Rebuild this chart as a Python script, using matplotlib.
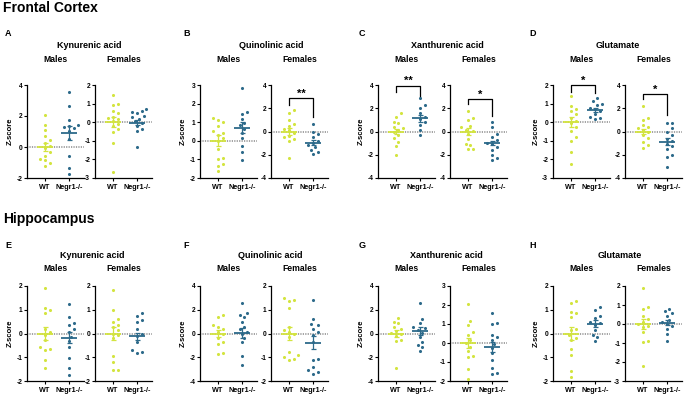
import numpy as np
import matplotlib
matplotlib.use("Agg")
import matplotlib.pyplot as plt

plt.rcParams["font.family"] = ["Liberation Sans", "DejaVu Sans"]
plt.rcParams["font.weight"] = "bold"
plt.rcParams["axes.unicode_minus"] = False

W, H = 685, 397
WT_COLOR = "#d3e43f"
KO_COLOR = "#2d6a8a"

regions = ["Frontal Cortex", "Hippocampus"]
compounds = ["Kynurenic acid", "Quinolinic acid", "Xanthurenic acid", "Glutamate"]
letters = [["A", "B", "C", "D"], ["E", "F", "G", "H"]]
sexes = ["Males", "Females"]
groups = ["WT", "Negr1-/-"]

# ---- Frontal cortex z-scores ----
fc_kyn_m_wt = [2.05, 1.4, 1.1, 0.7, 0.45, 0.25, 0.05, -0.05, -0.3, -0.55, -0.75, -0.85, -1.0, -1.2]
fc_kyn_m_ko = [3.55, 2.65, 1.72, 1.45, 1.35, 1.3, 1.2, 1.05, 0.5, -0.55, -1.35, -1.75]
fc_kyn_f_wt = [1.45, 1.0, 0.9, 0.6, 0.5, 0.3, 0.25, 0.15, 0.05, -0.1, -0.2, -0.35, -0.55, -1.1, -2.7]
fc_kyn_f_ko = [0.7, 0.62, 0.53, 0.48, 0.35, 0.27, 0.18, 0.05, -0.05, -0.18, -0.35, -0.48, -1.35]
fc_quin_m_wt = [1.2, 1.1, 1.03, 0.82, 0.53, 0.4, 0.32, 0.15, -0.03, -0.42, -0.92, -1.0, -1.23, -1.36, -1.63]
fc_quin_m_ko = [2.83, 1.55, 1.42, 1.17, 0.95, 0.85, 0.64, 0.4, 0.15, -0.3, -0.6, -1.05]
fc_quin_f_wt = [1.85, 1.6, 1.03, 0.66, 0.5, 0.23, 0.1, -0.1, -0.35, -0.5, -0.62, -0.78, -2.28]
fc_quin_f_ko = [0.66, -0.06, -0.25, -0.5, -0.78, -0.97, -1.2, -1.35, -1.58, -1.78, -1.95]
fc_xan_m_wt = [1.56, 1.22, 0.85, 0.71, 0.43, 0.28, 0.14, -0.06, -0.28, -0.57, -0.9, -1.28, -2.04]
fc_xan_m_ko = [2.92, 2.27, 1.99, 1.56, 1.28, 1.08, 0.85, 0.57, 0.14, -0.28]
fc_xan_f_wt = [1.8, 1.14, 1.03, 0.51, 0.37, 0.17, 0.03, -0.2, -0.63, -1.05, -1.13, -1.48, -1.5]
fc_xan_f_ko = [0.8, 0.37, -0.2, -0.49, -0.77, -0.97, -1.1, -1.34, -1.56, -2.0, -2.3, -2.43]
fc_glu_m_wt = [1.4, 0.87, 0.69, 0.6, 0.43, 0.25, 0.07, -0.02, -0.28, -0.46, -0.82, -0.99, -1.6, -2.24]
fc_glu_m_ko = [1.28, 1.13, 0.99, 0.92, 0.78, 0.69, 0.6, 0.43, 0.28, 0.21, 0.16]
fc_glu_f_wt = [2.2, 1.18, 0.99, 0.56, 0.42, 0.28, 0.14, -0.06, -0.28, -0.56, -0.9, -1.13, -1.46]
fc_glu_f_ko = [0.76, 0.76, 0.28, 0.0, -0.28, -0.62, -0.85, -1.04, -1.27, -1.49, -2.03, -2.2, -3.04]

# ---- Hippocampus z-scores ----
hc_kyn_m_wt = [1.9, 1.06, 0.99, 0.85, 0.21, 0.07, -0.07, -0.28, -0.57, -0.64, -0.71, -1.13, -1.45]
hc_kyn_m_ko = [1.25, 0.68, 0.43, 0.35, 0.17, 0.07, -0.14, -0.33, -0.57, -1.02, -1.45, -1.73]
hc_kyn_f_wt = [1.85, 0.99, 0.6, 0.5, 0.35, 0.28, 0.14, 0.0, -0.07, -0.21, -0.96, -1.2, -1.52, -1.55]
hc_kyn_f_ko = [0.85, 0.73, 0.56, 0.5, 0.21, 0.0, -0.11, -0.35, -0.7, -0.77, -0.82]
hc_quin_m_wt = [1.56, 1.42, 0.71, 0.57, 0.34, 0.14, -0.06, -0.34, -0.71, -0.85, -1.64, -1.76]
hc_quin_m_ko = [2.6, 1.7, 1.56, 1.36, 0.99, 0.57, 0.34, 0.14, 0.0, -0.34, -0.71, -1.93, -2.69]
hc_quin_f_wt = [1.48, 1.41, 1.38, 1.06, 0.28, 0.14, 0.07, -0.03, -0.14, -0.77, -0.92, -1.01, -1.06, -1.1]
hc_quin_f_ko = [1.41, 0.63, 0.39, 0.35, 0.21, 0.07, -0.07, -0.35, -1.06, -1.13, -1.41, -1.55, -1.62, -1.69]
hc_xan_m_wt = [1.28, 1.0, 0.85, 0.57, 0.34, 0.23, 0.06, -0.06, -0.23, -0.51, -0.62, -2.9]
hc_xan_m_ko = [2.56, 1.19, 0.85, 0.57, 0.43, 0.28, 0.06, -0.28, -0.71, -0.99, -1.13, -1.48]
hc_xan_f_wt = [2.06, 1.16, 0.95, 0.6, 0.42, 0.16, -0.02, -0.19, -0.41, -0.69, -0.76, -1.39, -1.87]
hc_xan_f_ko = [1.57, 1.04, 1.0, 0.42, 0.3, 0.16, -0.05, -0.28, -0.55, -0.9, -1.29, -1.57, -1.64]
hc_glu_m_wt = [1.35, 1.3, 0.92, 0.85, 0.71, 0.21, 0.14, -0.07, -0.17, -0.26, -0.64, -0.92, -1.59, -1.84]
hc_glu_m_ko = [1.13, 0.99, 0.74, 0.64, 0.5, 0.43, 0.35, 0.14, -0.07, -0.14, -0.31]
hc_glu_f_wt = [1.9, 0.92, 0.8, 0.44, 0.27, 0.09, 0.0, -0.09, -0.18, -0.44, -0.89, -0.94, -2.2]
hc_glu_f_ko = [0.8, 0.67, 0.57, 0.44, 0.21, 0.09, 0.0, -0.09, -0.27, -0.53, -0.89]

# mean / SEM per panel (order: kyn M, kyn F, quin M, quin F, xan M, xan F, glu M, glu F)
fc_wt_mean = [0, 0, 0, 0, 0, 0, 0, 0]
fc_wt_sem = [0.25, 0.28, 0.3, 0.3, 0.25, 0.3, 0.28, 0.25]
fc_ko_mean = [0.92, -0.02, 0.7, -0.97, 1.13, -1.0, 0.67, -0.9]
fc_ko_sem = [0.45, 0.13, 0.3, 0.22, 0.3, 0.2, 0.1, 0.3]
hc_wt_mean = [0, 0, 0, 0, 0, 0, 0, 0]
hc_wt_sem = [0.27, 0.27, 0.28, 0.28, 0.3, 0.28, 0.28, 0.27]
hc_ko_mean = [-0.17, -0.11, 0.08, -0.39, 0.23, -0.19, 0.42, 0.06]
hc_ko_sem = [0.22, 0.15, 0.42, 0.27, 0.33, 0.26, 0.13, 0.13]

# y axis (min, max, step) per panel
fc_ylims = [(-2, 4, 2), (-3, 2, 1), (-2, 3, 1), (-4, 4, 2), (-4, 4, 2), (-4, 4, 2), (-3, 2, 1), (-4, 4, 2)]
hc_ylims = [(-2, 2, 1), (-2, 2, 1), (-4, 4, 2), (-2, 2, 1), (-4, 4, 2), (-2, 3, 1), (-2, 2, 1), (-3, 2, 1)]

# significance brackets: (panel, label, bar y, left leg end, right leg end)
fc_sig = [(3, "**", 2.88, 2.28, 1.24), (4, "**", 3.95, 3.4, 3.05),
          (5, "*", 2.78, 2.35, 1.3), (6, "*", 2.0, 1.65, 1.55), (7, "*", 3.24, 2.8, 1.4)]

fc_points = [(fc_kyn_m_wt, fc_kyn_m_ko), (fc_kyn_f_wt, fc_kyn_f_ko),
             (fc_quin_m_wt, fc_quin_m_ko), (fc_quin_f_wt, fc_quin_f_ko),
             (fc_xan_m_wt, fc_xan_m_ko), (fc_xan_f_wt, fc_xan_f_ko),
             (fc_glu_m_wt, fc_glu_m_ko), (fc_glu_f_wt, fc_glu_f_ko)]
hc_points = [(hc_kyn_m_wt, hc_kyn_m_ko), (hc_kyn_f_wt, hc_kyn_f_ko),
             (hc_quin_m_wt, hc_quin_m_ko), (hc_quin_f_wt, hc_quin_f_ko),
             (hc_xan_m_wt, hc_xan_m_ko), (hc_xan_f_wt, hc_xan_f_ko),
             (hc_glu_m_wt, hc_glu_m_ko), (hc_glu_f_wt, hc_glu_f_ko)]

rows = [
    dict(points=fc_points, wt_mean=fc_wt_mean, wt_sem=fc_wt_sem, ko_mean=fc_ko_mean,
         ko_sem=fc_ko_sem, ylims=fc_ylims, sig=fc_sig),
    dict(points=hc_points, wt_mean=hc_wt_mean, wt_sem=hc_wt_sem, ko_mean=hc_ko_mean,
         ko_sem=hc_ko_sem, ylims=hc_ylims, sig=[]),
]

# ---- layout (pixels) ----
ax_lefts = [27, 95, 200, 271, 378, 450, 553, 625]
ax_width = 57
row_top = [85, 286]
row_bot = [178, 381]
region_y = [8, 219]
letter_y = [34, 245]
compound_y = [46, 255]
sex_y = [62, 271]
letter_x = [5, 183, 359, 529]
compound_x = [[89, 271, 447, 618], [92, 270, 446, 620]]
XLIM = (-0.75, 1.625)


def swarm(vals, ux, uy, d=4.6):
    """Simple beeswarm offsets; ux/uy are data units per pixel."""
    vals = np.asarray(vals, float)
    xs = np.zeros(len(vals))
    placed = []
    cands = [0]
    for k in range(1, 12):
        cands += [k, -k]
    for i in np.argsort(vals):
        yp = vals[i] / uy
        for k in cands:
            xp = k * d * 0.5
            if all((xp - px) ** 2 + (yp - py) ** 2 >= d * d for px, py in placed):
                break
        xs[i] = xp * ux
        placed.append((xp, yp))
    return xs


fig = plt.figure(figsize=(W / 100, H / 100), dpi=100)

for r, row in enumerate(rows):
    fig.text(3 / W, 1 - region_y[r] / H, regions[r], fontsize=10, fontweight="bold",
             ha="left", va="center")
    for c in range(4):
        fig.text(letter_x[c] / W, 1 - letter_y[r] / H, letters[r][c], fontsize=6.5,
                 fontweight="bold", ha="left", va="center")
        fig.text(compound_x[r][c] / W, 1 - compound_y[r] / H, compounds[c], fontsize=6.5,
                 fontweight="bold", ha="center", va="center")
    for p in range(8):
        left = ax_lefts[p]
        ax = fig.add_axes([left / W, 1 - row_bot[r] / H, ax_width / W,
                           (row_bot[r] - row_top[r]) / H])
        ymin, ymax, step = row["ylims"][p]
        ax.set_xlim(*XLIM)
        ax.set_ylim(ymin, ymax)
        ax.set_yticks(np.arange(ymin, ymax + 0.01, step))
        ax.set_xticks([0, 1])
        ax.set_xticklabels(groups)
        ax.tick_params(axis="both", length=2, width=0.8, pad=1.5, labelsize=4.8)
        ax.tick_params(axis="x", labelsize=5.2, pad=2.5)
        for s in ["top", "right"]:
            ax.spines[s].set_visible(False)
        for s in ["left", "bottom"]:
            ax.spines[s].set_linewidth(0.9)
        ax.axhline(0, color="#8a8a8a", lw=1.1, ls=(0, (0.8, 0.8)), zorder=1)

        ux = (XLIM[1] - XLIM[0]) / ax_width
        uy = (ymax - ymin) / (row_bot[r] - row_top[r])
        wt, ko = row["points"][p]
        means = [row["wt_mean"][p], row["ko_mean"][p]]
        sems = [row["wt_sem"][p], row["ko_sem"][p]]
        for g, (vals, col) in enumerate([(wt, WT_COLOR), (ko, KO_COLOR)]):
            xs = g + swarm(vals, ux, uy)
            ax.scatter(xs, vals, s=5, color=col, linewidths=0, zorder=3)
            ax.hlines(means[g], g - 0.33, g + 0.33, color=col, lw=1.3, zorder=4)
            ax.errorbar(g, means[g], yerr=sems[g], color=col, lw=0.9, capsize=1.8,
                        capthick=0.9, zorder=4)

        ax.set_title(sexes[p % 2], fontsize=6.2, fontweight="bold", pad=0,
                     y=1 + (row_top[r] - sex_y[r]) / (row_bot[r] - row_top[r]))
        if p % 2 == 0:
            ax.set_ylabel("Z-score", fontsize=5.5, fontweight="bold", labelpad=1.5)

        for sp, label, ybar, yl, yr in row["sig"]:
            if sp != p:
                continue
            ax.plot([0, 0, 1, 1], [yl, ybar, ybar, yr], color="black", lw=0.9,
                    clip_on=False, zorder=5)
            ax.annotate(label, xy=(0.5, ybar), xytext=(0, 1), textcoords="offset points",
                        ha="center", va="baseline", fontsize=8, fontweight="bold",
                        annotation_clip=False)

fig.savefig("out.png", dpi=100)
